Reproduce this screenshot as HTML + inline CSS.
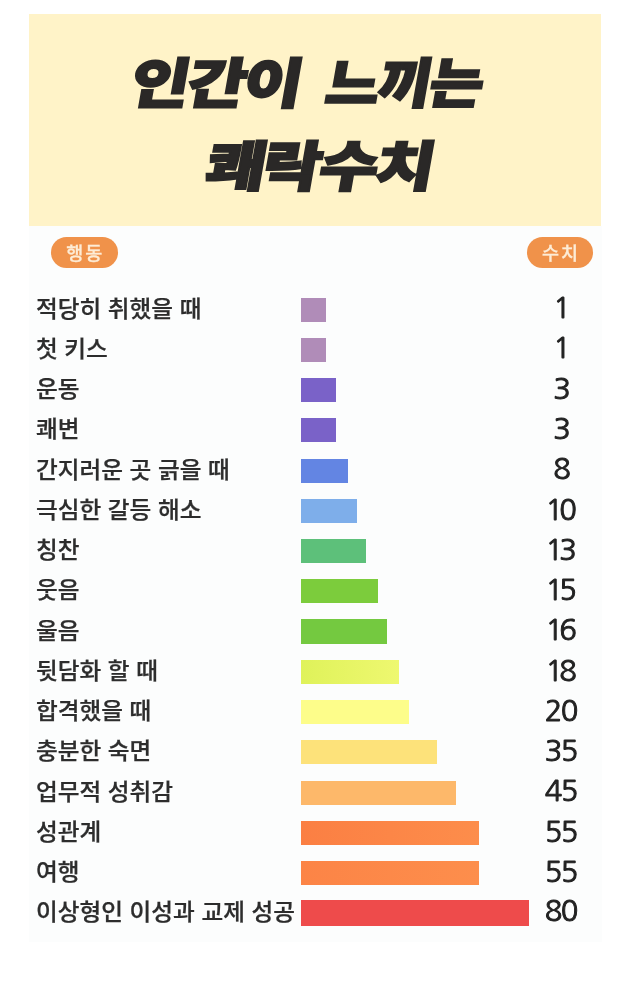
<!DOCTYPE html>
<html lang="ko"><head><meta charset="utf-8"><title>인간이 느끼는 쾌락수치</title>
<style>
html,body{margin:0;padding:0;background:#fff;}
body{width:640px;height:983px;position:relative;overflow:hidden;font-family:"Liberation Sans","Noto Sans CJK KR",sans-serif;}
.panel{position:absolute;left:29px;top:226px;width:573px;height:716px;background:#fcfdfd;}
.head{position:absolute;left:29.3px;top:14px;width:572.2px;height:212px;background:#fff3c8;}
.title{position:absolute;font-family:"Noto Sans CJK KR",sans-serif;font-weight:900;font-size:54px;line-height:60px;height:60px;color:#2a2827;-webkit-text-stroke:2px #2a2827;transform-origin:0 100%;white-space:nowrap;letter-spacing:-2px;}
.w1{left:98px;top:35.5px;transform:skewX(-10deg) scaleX(1.183);}
.w2{left:292.7px;top:35.5px;transform:skewX(-10deg) scaleX(1.085);}
.w3{left:172.7px;top:118.8px;transform:skewX(-10deg) scaleX(1.187);}
.pill{position:absolute;top:237px;height:31px;width:67.5px;border-radius:15.5px;background:#f0924a;color:#fdecd6;font-family:"Noto Sans CJK KR",sans-serif;font-weight:500;font-size:18.5px;line-height:30px;text-align:center;letter-spacing:2px;text-indent:2px;-webkit-text-stroke:0.3px #fdecd6;}
.lab{position:absolute;left:36px;height:40px;line-height:40px;font-family:"Noto Sans CJK KR",sans-serif;font-weight:500;font-size:22.6px;color:#2d2d2d;-webkit-text-stroke:0.25px #2d2d2d;white-space:nowrap;transform-origin:0 50%;transform:scaleX(1.046);}
.bar{position:absolute;left:300.5px;height:24.2px;}
.num{position:absolute;left:510.9px;width:100px;text-align:center;height:40px;line-height:40px;font-family:"NanumGothic","Liberation Sans",sans-serif;font-weight:400;font-size:29px;color:#222;-webkit-text-stroke:1px #222;}
</style></head><body>
<div class="panel"></div>
<div class="head">
<div class="title w1">인간이</div>
<div class="title w2">느끼는</div>
<div class="title w3">쾌락수치</div>
</div>
<div class="pill" style="left:50.5px">행동</div>
<div class="pill" style="left:527px;width:66px">수치</div>
<div class="lab" style="top:287.85px">적당히 취했을 때</div>
<div class="bar" style="top:297.50px;width:25.50px;background:#b08cb8"></div>
<div class="num" style="top:288.35px;left:511.25px;letter-spacing:-1.5px">1</div>
<div class="lab" style="top:327.85px">첫 키스</div>
<div class="bar" style="top:337.50px;width:25.50px;background:#b08cb8"></div>
<div class="num" style="top:328.35px;left:511.25px;letter-spacing:-1.5px">1</div>
<div class="lab" style="top:368.35px">운동</div>
<div class="bar" style="top:378.00px;width:35.50px;background:#7a62c8"></div>
<div class="num" style="top:368.85px;left:511.25px;letter-spacing:-1.5px">3</div>
<div class="lab" style="top:408.35px">쾌변</div>
<div class="bar" style="top:418.00px;width:35.50px;background:#7a62c8"></div>
<div class="num" style="top:408.85px;left:511.25px;letter-spacing:-1.5px">3</div>
<div class="lab" style="top:448.85px">간지러운 곳 긁을 때</div>
<div class="bar" style="top:458.50px;width:47.50px;background:#6385e3"></div>
<div class="num" style="top:449.35px;left:511.25px;letter-spacing:-1.5px">8</div>
<div class="lab" style="top:489.05px">극심한 갈등 해소</div>
<div class="bar" style="top:498.70px;width:56.50px;background:#7eaeea"></div>
<div class="num" style="top:489.55px;left:509.25px;letter-spacing:-3.7px">10</div>
<div class="lab" style="top:529.35px">칭찬</div>
<div class="bar" style="top:539.00px;width:65.50px;background:#5dc07a"></div>
<div class="num" style="top:529.85px;left:509.25px;letter-spacing:-3.7px">13</div>
<div class="lab" style="top:569.35px">웃음</div>
<div class="bar" style="top:579.00px;width:77.50px;background:#7ccc3c"></div>
<div class="num" style="top:569.85px;left:509.25px;letter-spacing:-3.7px">15</div>
<div class="lab" style="top:609.75px">울음</div>
<div class="bar" style="top:619.40px;width:86.50px;background:#74c940"></div>
<div class="num" style="top:610.25px;left:509.25px;letter-spacing:-3.7px">16</div>
<div class="lab" style="top:650.15px">뒷담화 할 때</div>
<div class="bar" style="top:659.80px;width:98.25px;background:linear-gradient(90deg,#dff25a,#eef870)"></div>
<div class="num" style="top:650.65px;left:509.25px;letter-spacing:-3.7px">18</div>
<div class="lab" style="top:690.35px">합격했을 때</div>
<div class="bar" style="top:700.00px;width:108.50px;background:#fdfd8a"></div>
<div class="num" style="top:690.85px;left:510.85px;letter-spacing:-1.5px">20</div>
<div class="lab" style="top:730.45px">충분한 숙면</div>
<div class="bar" style="top:740.10px;width:136.00px;background:#fde27a"></div>
<div class="num" style="top:730.95px;left:510.85px;letter-spacing:-1.5px">35</div>
<div class="lab" style="top:770.95px">업무적 성취감</div>
<div class="bar" style="top:780.60px;width:155.50px;background:#fdb86a"></div>
<div class="num" style="top:771.45px;left:510.85px;letter-spacing:-1.5px">45</div>
<div class="lab" style="top:811.35px">성관계</div>
<div class="bar" style="top:821.00px;width:178.50px;background:linear-gradient(90deg,#fb7f43,#fd8d4b)"></div>
<div class="num" style="top:811.85px;left:510.85px;letter-spacing:-1.5px">55</div>
<div class="lab" style="top:851.25px">여행</div>
<div class="bar" style="top:860.90px;width:178.50px;background:linear-gradient(90deg,#fc8446,#fd8e4c)"></div>
<div class="num" style="top:851.75px;left:510.85px;letter-spacing:-1.5px">55</div>
<div class="lab" style="top:890.65px">이상형인 이성과 교제 성공</div>
<div class="bar" style="top:900.30px;width:228.50px;background:#ee4b4b;height:25.3px"></div>
<div class="num" style="top:891.15px;left:510.85px;letter-spacing:-1.5px">80</div>
</body></html>
